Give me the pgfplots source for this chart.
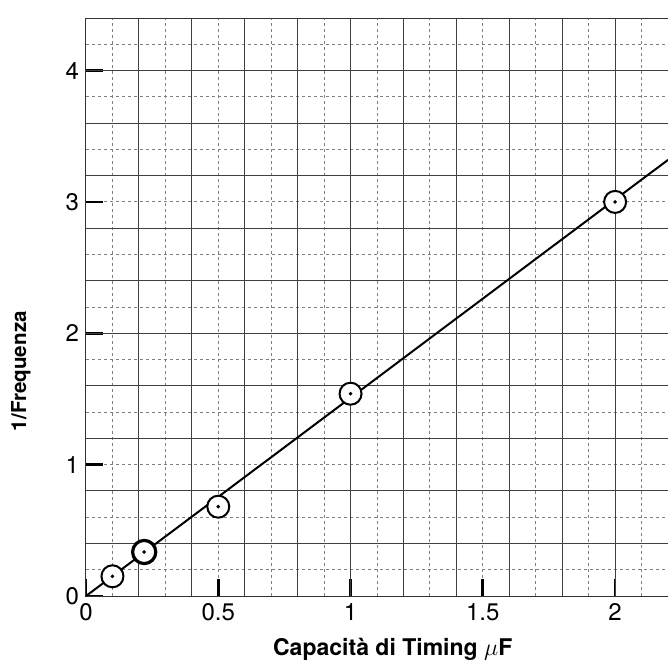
\documentclass[border=0pt]{standalone}
\usepackage{fontspec}
\setmainfont{TeX Gyre Heros}
\usepackage{pgfplots}
\pgfplotsset{compat=1.18}
\begin{document}
\begin{tikzpicture}
\begin{axis}[
  scale only axis, width=291pt, height=289pt,
  xmin=0, xmax=2.2, ymin=0, ymax=4.4,
  axis line style={black!80, line width=0.5pt},
  xtick pos=bottom, ytick pos=left,
  xtick={0,0.5,1,1.5,2}, xticklabels={0,0.5,1,1.5,2},
  ytick={0,1,2,3,4}, yticklabels={0,1,2,3,4},
  tick align=inside,
  major tick length=8.5pt,
  major tick style={black, line width=1.4pt},
  minor xtick={0.1,0.3,0.5,0.7,0.9,1.1,1.3,1.5,1.7,1.9,2.1},
  minor ytick={0.2,0.6,1.0,1.4,1.8,2.2,2.6,3.0,3.4,3.8,4.2},
  minor tick length=0pt,
  grid=minor,
  minor grid style={black!50, line width=0.45pt, dash pattern=on 1.6pt off 1.4pt},
  major grid style={black!75, line width=0.55pt},
  extra x ticks={0.2,0.4,0.6,0.8,1.0,1.2,1.4,1.6,1.8,2.0},
  extra y ticks={0.4,0.8,1.2,1.6,2.0,2.4,2.8,3.2,3.6,4.0},
  extra x tick labels={}, extra y tick labels={},
  extra tick style={grid=major, major tick length=0pt},
  ticklabel style={font=\fontsize{12}{14}\selectfont},
  clip=false,
]
\addplot[black, line width=1pt] coordinates {(0,0) (2.2,3.32)};
\addplot[only marks, mark=*, mark size=5.5pt, mark options={draw=black, fill=white, line width=1pt}] coordinates {(0.1,0.15) (0.5,0.68) (1,1.54) (2,3.0)};
\addplot[only marks, mark=*, mark size=5.8pt, mark options={draw=black, fill=white, line width=1.6pt}] coordinates {(0.22,0.335)};
\addplot[only marks, mark=*, mark size=0.7pt, mark options={black}] coordinates {(0.1,0.15) (0.22,0.335) (0.5,0.68) (1,1.54) (2,3.0)};
\node[font=\bfseries\fontsize{11.5}{14}\selectfont, anchor=center] at (rel axis cs:0.527,-0.0917) {Capacità di Timing $\mu$F};
\node[font=\bfseries\fontsize{10.3}{12}\selectfont, anchor=center, rotate=90] at (rel axis cs:-0.112,0.389) {1/Frequenza};
\end{axis}
\pgfresetboundingbox
\path (-43pt,-32pt) rectangle (291pt,298pt);
\end{tikzpicture}
\end{document}
